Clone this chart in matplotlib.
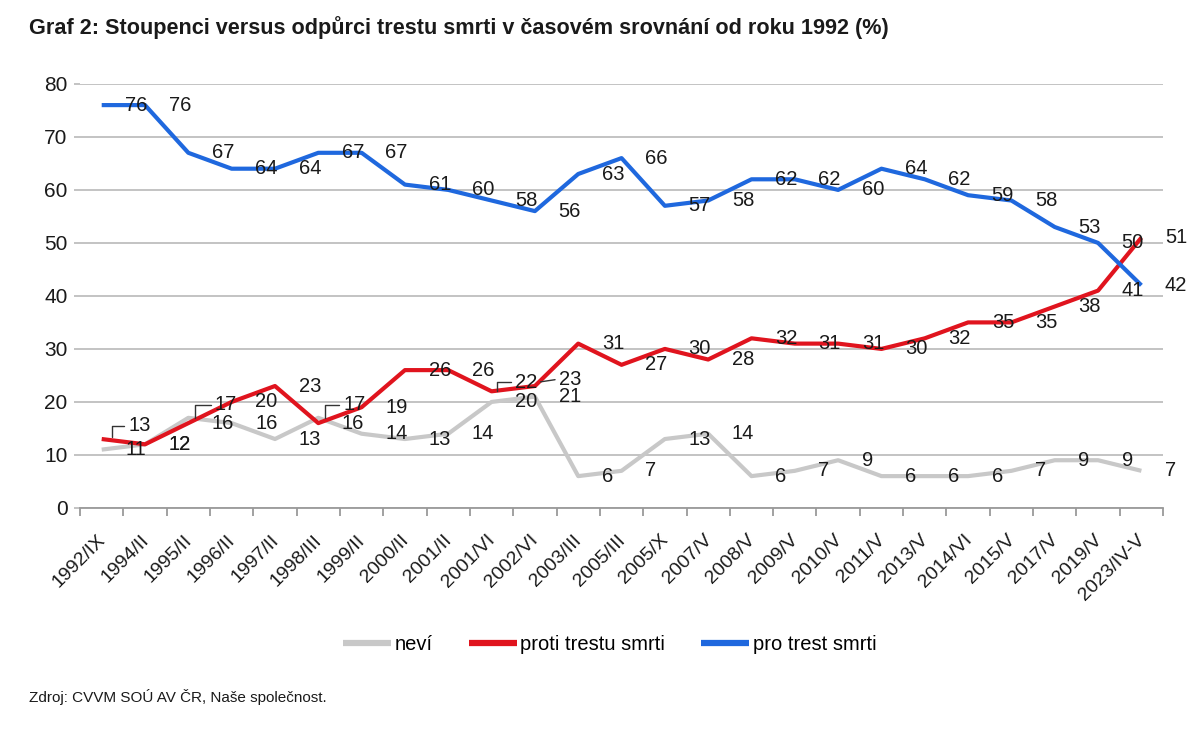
import matplotlib
matplotlib.use("Agg")
import matplotlib.pyplot as plt
import matplotlib.transforms as mtransforms
import numpy as np

plt.rcParams['font.family'] = ['Liberation Sans', 'DejaVu Sans']

periods = ["1992/IX", "1994/II", "1995/II", "1996/II", "1997/II", "1998/III", "1999/II",
           "2000/II", "2001/II", "2001/VI", "2002/VI", "2003/III", "2005/III", "2005/X",
           "2007/V", "2008/V", "2009/V", "2010/V", "2011/V", "2013/V", "2014/VI",
           "2015/V", "2017/V", "2019/V", "2023/IV-V"]
nevi = [11, 12, 17, 16, 13, 17, 14, 13, 14, 20, 21, 6, 7, 13, 14, 6, 7, 9, 6, 6, 6, 7, 9, 9, 7]
proti = [13, 12, 16, 20, 23, 16, 19, 26, 26, 22, 23, 31, 27, 30, 28, 32, 31, 31, 30, 32, 35, 35, 38, 41, 51]
pro = [76, 76, 67, 64, 64, 67, 67, 61, 60, 58, 56, 63, 66, 57, 58, 62, 62, 60, 64, 62, 59, 58, 53, 50, 42]

series = [
    ("neví", nevi, "#C8C8C8"),
    ("proti trestu smrti", proti, "#E0141E"),
    ("pro trest smrti", pro, "#1F68DE"),
]

# labels that Excel moved away and joined with a leader line:
# (series, index) -> (label dx, label dy, leader end dx, leader end dy, leader style), points
elbow = "angle,angleA=0,angleB=90,rad=0"
moved = {
    ("proti trestu smrti", 0): (19, 9.5, 7.5, 1.5, elbow),
    ("neví", 2): (19, 9.5, 5, 0, elbow),
    ("neví", 5): (18, 9.5, 5, 0, elbow),
    ("proti trestu smrti", 9): (17, 6.5, 4, 0, elbow),
    ("proti trestu smrti", 10): (17.5, 5, 4, 3, "arc3,rad=0"),
}

fig = plt.figure(figsize=(12, 7.34), dpi=100)
ax = fig.add_axes([0.0667, 0.308, 0.9025, 0.5777])

x = np.arange(len(periods))
for name, vals, col in series:
    ax.plot(x, vals, color=col, lw=3, label=name, solid_joinstyle="round",
            solid_capstyle="butt", zorder=3)

txt_col = "#1a1a1a"
lab_size = 14.5
for name, vals, col in series:
    for i, v in enumerate(vals):
        if (name, i) in moved:
            dx, dy, ex, ey, style = moved[(name, i)]
            end = mtransforms.offset_copy(ax.transData, fig=fig, x=ex, y=ey, units="points")
            ax.annotate(str(v), xy=(i, v), xycoords=end, xytext=(dx - ex, dy - ey),
                        textcoords="offset points", ha="left", va="center",
                        fontsize=lab_size, color=txt_col, zorder=5,
                        arrowprops=dict(arrowstyle="-", color="#333333", lw=1,
                                        connectionstyle=style,
                                        relpos=(0, 0.5), shrinkA=1, shrinkB=0))
        else:
            ax.annotate(str(v), xy=(i, v), xytext=(17, 0), textcoords="offset points",
                        ha="left", va="center", fontsize=lab_size, color=txt_col, zorder=5)

ax.set_xlim(-0.5, len(periods) - 0.5)
ax.set_ylim(0, 80)
ax.set_yticks(range(0, 81, 10))
ax.yaxis.grid(True, color="#BEBEBE", lw=1.3)
ax.set_axisbelow(True)
for s in ["top", "right", "left"]:
    ax.spines[s].set_visible(False)
ax.spines["bottom"].set_color("#9a9a9a")
ax.spines["bottom"].set_linewidth(1.3)
ax.tick_params(axis="y", length=4, color="#BEBEBE", width=1.3, labelsize=15,
               labelcolor=txt_col, pad=5)

ax.set_xticks(x)
ax.set_xticklabels(periods, rotation=45, ha="right", fontsize=14, color=txt_col)
ax.set_xticks(np.arange(-0.5, len(periods)), minor=True)
ax.tick_params(axis="x", which="major", length=0, pad=17)
ax.tick_params(axis="x", which="minor", length=6, color="#9a9a9a", width=1.3)
shift = mtransforms.ScaledTranslation(5 / 72, 0, fig.dpi_scale_trans)
for lab in ax.get_xticklabels():
    lab.set_transform(lab.get_transform() + shift)

fig.text(0.024, 0.962, "Graf 2: Stoupenci versus odpůrci trestu smrti v časovém srovnání od roku 1992 (%)",
         fontsize=15.6, fontweight="bold", color=txt_col, va="center", ha="left")
fig.text(0.024, 0.05, "Zdroj: CVVM SOÚ AV ČR, Naše společnost.", fontsize=11,
         color=txt_col, va="center", ha="left")

fig.legend(loc="center", bbox_to_anchor=(0.508, 0.122), ncol=3, frameon=False,
           fontsize=14.5, handlelength=2.4, handletextpad=0.15, columnspacing=1.8)
for h in fig.legends[0].get_lines():
    h.set_linewidth(4.5)

fig.savefig("out.png", dpi=100)
